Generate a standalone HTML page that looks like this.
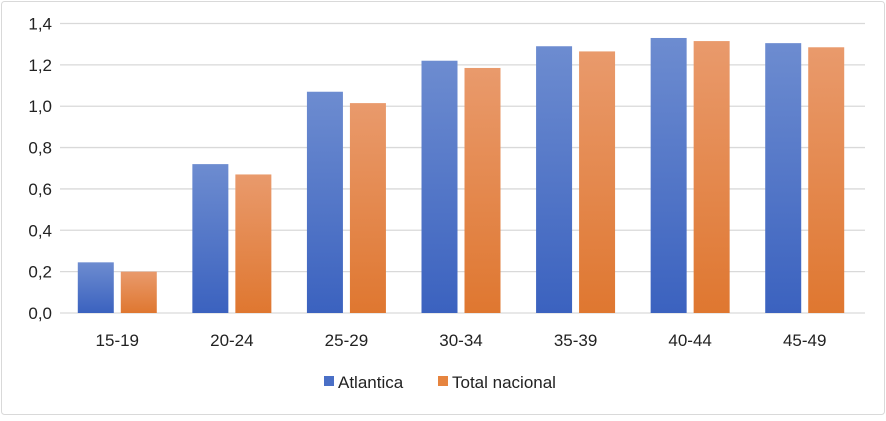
<!DOCTYPE html>
<html><head><meta charset="utf-8"><style>
body{margin:0;background:#fff;font-family:"Liberation Sans",sans-serif}
svg text{font-family:"Liberation Sans",sans-serif;fill:#222}
</style></head><body>
<svg width="886" height="416">
<defs>
<linearGradient id="gb" x1="0" y1="0" x2="0" y2="1"><stop offset="0" stop-color="#6d8cd0"/><stop offset="1" stop-color="#3b62bf"/></linearGradient>
<linearGradient id="go" x1="0" y1="0" x2="0" y2="1"><stop offset="0" stop-color="#e99a6c"/><stop offset="1" stop-color="#df7730"/></linearGradient>
</defs>
<rect x="1.5" y="1.5" width="883" height="413" rx="3" fill="#fff" stroke="#d9d9d9"/>
<g id="grid"></g><g id="bars"></g><g id="labels"></g>
<g>
<rect x="324" y="376" width="10" height="10" fill="#4a6fc6"/>
<text x="338" y="388" font-size="17">Atlantica</text>
<rect x="438" y="376" width="10" height="10" fill="#e6843f"/>
<text x="452" y="388" font-size="17">Total nacional</text>
</g>
</svg>
<script>
const categories=["15-19","20-24","25-29","30-34","35-39","40-44","45-49"];
const atlantica=[0.245,0.72,1.07,1.22,1.29,1.33,1.305];
const totalNacional=[0.20,0.67,1.015,1.185,1.265,1.315,1.285];
const yTicks=[0,0.2,0.4,0.6,0.8,1.0,1.2,1.4];
const yTickLabels=["0,0","0,2","0,4","0,6","0,8","1,0","1,2","1,4"];
const NS="http://www.w3.org/2000/svg";
const left=60,right=862,y0=313,y1=23.5,ymax=1.4;
const y=v=>y0-(v/ymax)*(y0-y1);
const band=(right-left)/categories.length;
const x=i=>left+band*(i+0.5);
function mk(t,a,p){const e=document.createElementNS(NS,t);for(const k in a)e.setAttribute(k,a[k]);document.getElementById(p).appendChild(e);return e;}
yTicks.forEach((v,i)=>{
 const l=mk('line',{x1:left,x2:865,y1:y(v),y2:y(v),stroke:'#d9d9d9','stroke-width':1.3},'grid');
 
 
 const t=mk('text',{x:52,y:y(v)+6,'text-anchor':'end','font-size':17},'labels');
 t.textContent=yTickLabels[i];
 
 
});
const bw=36,gap=7;
categories.forEach((c,i)=>{
 const cx=x(i);
 const b=mk('rect',{x:cx-gap/2-bw,y:y(atlantica[i]),width:bw,height:y0-y(atlantica[i]),fill:'url(#gb)'},'bars');
 
 
 const o=mk('rect',{x:cx+gap/2,y:y(totalNacional[i]),width:bw,height:y0-y(totalNacional[i]),fill:'url(#go)'},'bars');
 
 
 const t=mk('text',{x:cx,y:346,'text-anchor':'middle','font-size':17},'labels');
 t.textContent=c;
 
 
});
</script>
</body></html>
